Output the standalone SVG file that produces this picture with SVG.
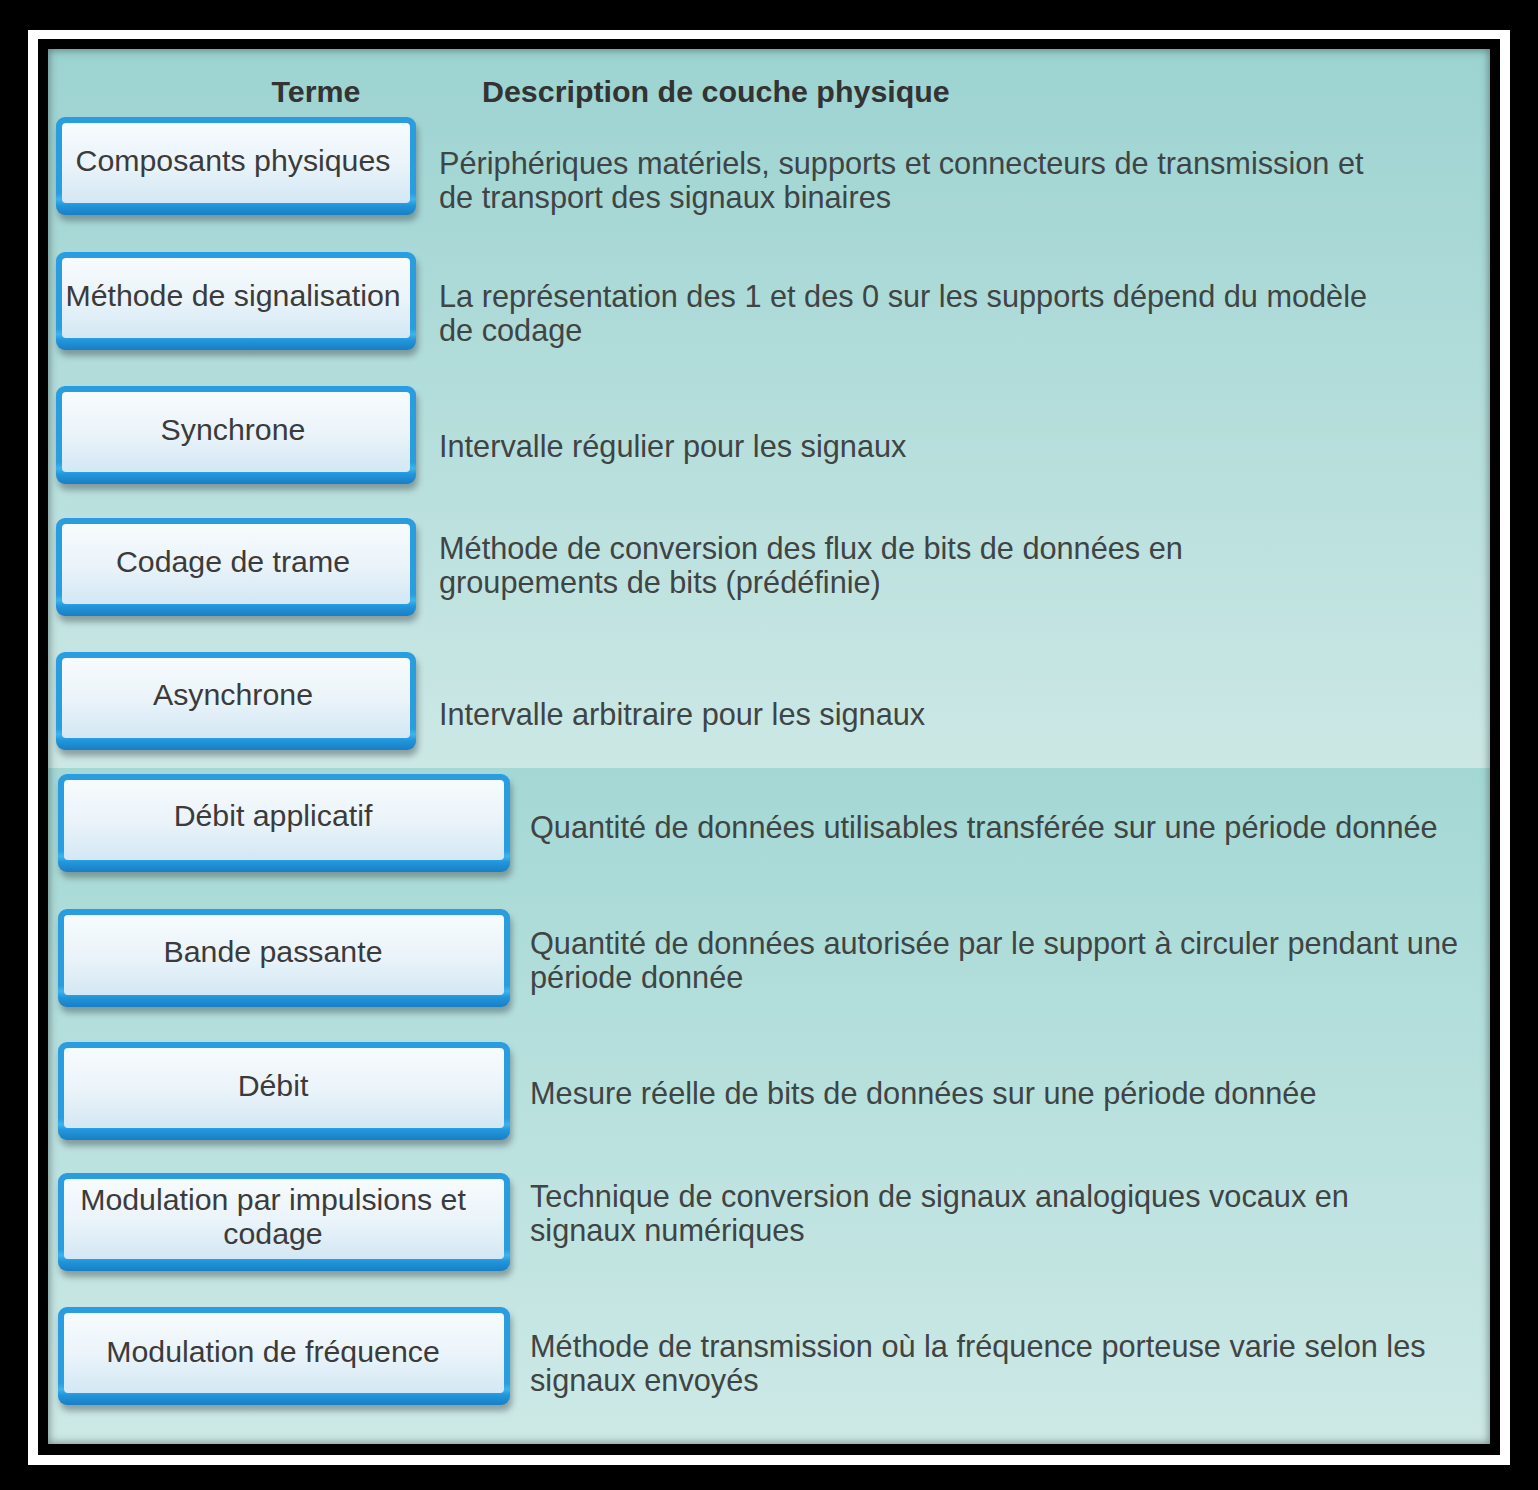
<svg xmlns="http://www.w3.org/2000/svg" width="1538" height="1490" viewBox="0 0 1538 1490">
<defs>
<linearGradient id="topBg" x1="0" y1="0" x2="0" y2="1">
<stop offset="0" stop-color="#9cd3d1"/>
<stop offset="1" stop-color="#cce8e5"/>
</linearGradient>
<linearGradient id="botBg" x1="0" y1="0" x2="0" y2="1">
<stop offset="0" stop-color="#a4d8d5"/>
<stop offset="1" stop-color="#cde9e6"/>
</linearGradient>
<linearGradient id="border" x1="0" y1="0" x2="0" y2="1">
<stop offset="0" stop-color="#2a9ce0"/>
<stop offset="0.78" stop-color="#2a9ce0"/>
<stop offset="0.84" stop-color="#3cb4ee"/>
<stop offset="0.9" stop-color="#2196dc"/>
<stop offset="1" stop-color="#1a7ec4"/>
</linearGradient>
<linearGradient id="inner" x1="0" y1="0" x2="0" y2="1">
<stop offset="0" stop-color="#f7fbfd"/>
<stop offset="0.5" stop-color="#ebf4fa"/>
<stop offset="1" stop-color="#d3e7f4"/>
</linearGradient>
<filter id="blur" x="-10%" y="-20%" width="120%" height="150%"><feGaussianBlur stdDeviation="3"/></filter>
<filter id="edge" x="-5%" y="-5%" width="110%" height="110%"><feGaussianBlur stdDeviation="4"/></filter>
<clipPath id="panelClip"><rect x="48" y="49" width="1442" height="1395"/></clipPath>
</defs>
<style>
.shadow{fill:#3c4a50;opacity:.45;filter:url(#blur)}
.outer{fill:url(#border)}
.inner{fill:url(#inner)}
.lbl{font-family:"Liberation Sans",Arial,sans-serif;font-size:30.3px;fill:#3b3b3b;text-anchor:middle}
.desc{font-family:"Liberation Sans",Arial,sans-serif;font-size:30.7px;fill:#3f4444}
.hdr{font-family:"Liberation Sans",Arial,sans-serif;font-size:30.4px;font-weight:bold;fill:#333}
</style>
<rect x="0" y="0" width="1538" height="1490" fill="#000"/>
<rect x="28" y="30" width="1482" height="1435" fill="#fff"/>
<rect x="38" y="39" width="1462" height="1416" fill="#000"/>
<g clip-path="url(#panelClip)">
<rect x="48" y="49" width="1442" height="719" fill="url(#topBg)"/>
<rect x="48" y="768" width="1442" height="676" fill="url(#botBg)"/>
<rect x="44" y="45" width="1450" height="1403" fill="none" stroke="#2c3a3c" stroke-width="10" opacity=".55" filter="url(#edge)"/>
</g>
<g id="headers">
<text class="hdr" x="316" y="102" text-anchor="middle">Terme</text>
<text class="hdr" x="482" y="102">Description de couche physique</text>
</g>
<g id="n1" transform="translate(56,117)">
<rect class="shadow" x="2" y="6" width="360" height="98" rx="9"/>
<rect class="outer" width="360" height="98" rx="9"/>
<rect class="inner" x="6" y="6" width="348" height="80" rx="4"/>
<text class="lbl" x="177" y="54">Composants physiques</text>
</g>
<g id="n2" transform="translate(56,252)">
<rect class="shadow" x="2" y="6" width="360" height="98" rx="9"/>
<rect class="outer" width="360" height="98" rx="9"/>
<rect class="inner" x="6" y="6" width="348" height="80" rx="4"/>
<text class="lbl" x="177" y="54">Méthode de signalisation</text>
</g>
<g id="n3" transform="translate(56,386)">
<rect class="shadow" x="2" y="6" width="360" height="98" rx="9"/>
<rect class="outer" width="360" height="98" rx="9"/>
<rect class="inner" x="6" y="6" width="348" height="80" rx="4"/>
<text class="lbl" x="177" y="54">Synchrone</text>
</g>
<g id="n4" transform="translate(56,518)">
<rect class="shadow" x="2" y="6" width="360" height="98" rx="9"/>
<rect class="outer" width="360" height="98" rx="9"/>
<rect class="inner" x="6" y="6" width="348" height="80" rx="4"/>
<text class="lbl" x="177" y="54">Codage de trame</text>
</g>
<g id="n5" transform="translate(56,652)">
<rect class="shadow" x="2" y="6" width="360" height="98" rx="9"/>
<rect class="outer" width="360" height="98" rx="9"/>
<rect class="inner" x="6" y="6" width="348" height="80" rx="4"/>
<text class="lbl" x="177" y="53">Asynchrone</text>
</g>
<g id="n6" transform="translate(58,774)">
<rect class="shadow" x="2" y="6" width="452" height="98" rx="9"/>
<rect class="outer" width="452" height="98" rx="9"/>
<rect class="inner" x="6" y="6" width="440" height="80" rx="4"/>
<text class="lbl" x="215" y="52">Débit applicatif</text>
</g>
<g id="n7" transform="translate(58,909)">
<rect class="shadow" x="2" y="6" width="452" height="98" rx="9"/>
<rect class="outer" width="452" height="98" rx="9"/>
<rect class="inner" x="6" y="6" width="440" height="80" rx="4"/>
<text class="lbl" x="215" y="53">Bande passante</text>
</g>
<g id="n8" transform="translate(58,1042)">
<rect class="shadow" x="2" y="6" width="452" height="98" rx="9"/>
<rect class="outer" width="452" height="98" rx="9"/>
<rect class="inner" x="6" y="6" width="440" height="80" rx="4"/>
<text class="lbl" x="215" y="54">Débit</text>
</g>
<g id="n9" transform="translate(58,1173)">
<rect class="shadow" x="2" y="6" width="452" height="98" rx="9"/>
<rect class="outer" width="452" height="98" rx="9"/>
<rect class="inner" x="6" y="6" width="440" height="80" rx="4"/>
<text class="lbl" x="215" y="37">Modulation par impulsions et</text>
<text class="lbl" x="215" y="71">codage</text>
</g>
<g id="n10" transform="translate(58,1307)">
<rect class="shadow" x="2" y="6" width="452" height="98" rx="9"/>
<rect class="outer" width="452" height="98" rx="9"/>
<rect class="inner" x="6" y="6" width="440" height="80" rx="4"/>
<text class="lbl" x="215" y="55">Modulation de fréquence</text>
</g>
<g id="descriptions">
<text class="desc" x="439" y="174">Périphériques matériels, supports et connecteurs de transmission et</text>
<text class="desc" x="439" y="208">de transport des signaux binaires</text>
<text class="desc" x="439" y="307">La représentation des 1 et des 0 sur les supports dépend du modèle</text>
<text class="desc" x="439" y="341">de codage</text>
<text class="desc" x="439" y="457">Intervalle régulier pour les signaux</text>
<text class="desc" x="439" y="559">Méthode de conversion des flux de bits de données en</text>
<text class="desc" x="439" y="593">groupements de bits (prédéfinie)</text>
<text class="desc" x="439" y="725">Intervalle arbitraire pour les signaux</text>
<text class="desc" x="530" y="838">Quantité de données utilisables transférée sur une période donnée</text>
<text class="desc" x="530" y="954">Quantité de données autorisée par le support à circuler pendant une</text>
<text class="desc" x="530" y="988">période donnée</text>
<text class="desc" x="530" y="1104">Mesure réelle de bits de données sur une période donnée</text>
<text class="desc" x="530" y="1207">Technique de conversion de signaux analogiques vocaux en</text>
<text class="desc" x="530" y="1241">signaux numériques</text>
<text class="desc" x="530" y="1357">Méthode de transmission où la fréquence porteuse varie selon les</text>
<text class="desc" x="530" y="1391">signaux envoyés</text>
</g>
</svg>
